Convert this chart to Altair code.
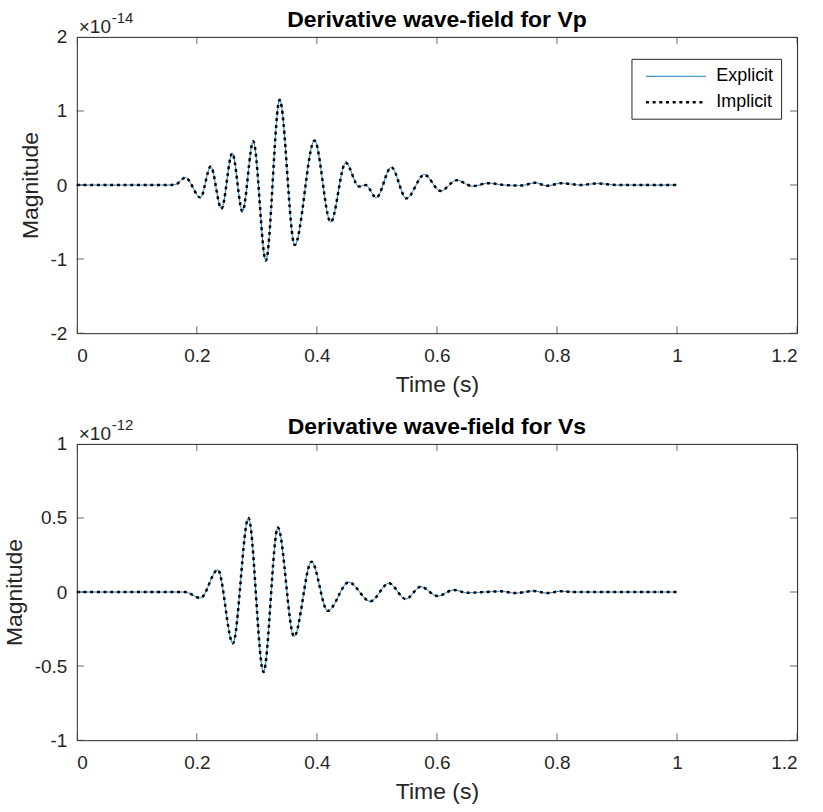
import altair as alt
import pandas as pd

# ---------------- data ----------------
series = ["Explicit", "Implicit"]

t_vp = [0.0, 0.15, 0.165, 0.181, 0.206, 0.223, 0.241, 0.259, 0.276, 0.294, 0.315,
        0.338, 0.363, 0.396, 0.423, 0.448, 0.470, 0.481, 0.499, 0.524, 0.549,
        0.579, 0.606, 0.633, 0.659, 0.686, 0.712, 0.739, 0.764, 0.783, 0.808,
        0.839, 0.867, 0.90, 1.0]
v_vp = [0.0, 0.0, 0.01, 0.10, -0.17, 0.25, -0.32, 0.43, -0.355, 0.59, -1.02,
        1.15, -0.81, 0.60, -0.50, 0.30, -0.02, 0.0, -0.17, 0.24, -0.18,
        0.14, -0.08, 0.065, -0.015, 0.025, 0.0, -0.007, 0.03, -0.01, 0.025,
        0.0, 0.02, 0.0, 0.0]

t_vs = [0.0, 0.18, 0.206, 0.235, 0.260, 0.286, 0.311, 0.335, 0.362, 0.391,
        0.418, 0.453, 0.489, 0.520, 0.548, 0.573, 0.601, 0.628, 0.650, 0.68,
        0.706, 0.731, 0.761, 0.783, 0.806, 0.83, 1.0]
v_vs = [0.0, 0.0, -0.04, 0.15, -0.346, 0.50, -0.54, 0.435, -0.30, 0.205,
        -0.127, 0.066, -0.063, 0.059, -0.047, 0.036, -0.027, 0.014, -0.005, 0.0,
        0.005, -0.007, 0.007, -0.007, 0.005, 0.0, 0.0]

x_ticks = [0, 0.2, 0.4, 0.6, 0.8, 1.0, 1.2]
vp_ticks = [-2, -1, 0, 1, 2]
vs_ticks = [-1, -0.5, 0, 0.5, 1]
titles = ["Derivative wave-field for Vp", "Derivative wave-field for Vs"]
exponents = ["-14", "-12"]

FONT = "Liberation Sans"
INK = "#262626"
W, H = 722, 297


def panel(t, v, ymin, ymax, yticks, title, exp):
    df = pd.concat([pd.DataFrame({"t": t, "v": v, "series": s}) for s in series],
                   ignore_index=True)
    xs = alt.Scale(domain=[0, 1.2], nice=False, zero=False)
    ys = alt.Scale(domain=[ymin, ymax], nice=False, zero=False)
    leg = alt.Legend(title=None, orient="none", legendX=556, legendY=22,
                     symbolType="M-3,0H3", symbolSize=400, symbolOffset=26,
                     labelFontSize=18, labelFont=FONT, labelColor="#000000",
                     strokeColor=INK, fillColor="white", padding=7, rowPadding=5,
                     labelOffset=29, cornerRadius=0)
    lines = alt.Chart(df).mark_line(interpolate="monotone", strokeCap="butt").encode(
        x=alt.X("t:Q", scale=xs,
                axis=alt.Axis(values=x_ticks, labelExpr="'' + datum.value",
                              title="Time (s)", ticks=False, domain=False,
                              grid=False, labelPadding=13, titlePadding=8)),
        y=alt.Y("v:Q", scale=ys,
                axis=alt.Axis(values=yticks, labelExpr="'' + datum.value",
                              title="Magnitude", ticks=False, domain=False,
                              grid=False, labelPadding=10, titlePadding=8)),
        color=alt.Color("series:N", scale=alt.Scale(domain=series,
                        range=["#0072BD", "#000000"]), legend=leg),
        strokeDash=alt.StrokeDash("series:N", scale=alt.Scale(domain=series,
                                  range=[[1, 0], [3, 3.7]]), legend=leg),
        strokeWidth=alt.StrokeWidth("series:N", scale=alt.Scale(domain=series,
                                    range=[1, 2.5]), legend=leg),
    )
    xt = pd.DataFrame({"x": x_ticks})
    yt = pd.DataFrame({"y": yticks})
    tick_style = dict(size=14, thickness=1, color=INK, clip=True)
    xb = alt.Chart(xt).mark_tick(orient="vertical", **tick_style).encode(
        x=alt.X("x:Q", scale=xs), y=alt.datum(ymin))
    xtop = alt.Chart(xt).mark_tick(orient="vertical", **tick_style).encode(
        x=alt.X("x:Q", scale=xs), y=alt.datum(ymax))
    yl = alt.Chart(yt).mark_tick(orient="horizontal", **tick_style).encode(
        y=alt.Y("y:Q", scale=ys), x=alt.datum(0))
    yr = alt.Chart(yt).mark_tick(orient="horizontal", **tick_style).encode(
        y=alt.Y("y:Q", scale=ys), x=alt.datum(1.2))
    ex = pd.DataFrame({"a": ["\u00d710"], "b": [exp], "title": [title]})
    e1 = alt.Chart(ex).mark_text(align="left", baseline="alphabetic", fontSize=19,
                                 font=FONT, color=INK).encode(
        text="a:N", x=alt.value(2), y=alt.value(-4))
    e2 = alt.Chart(ex).mark_text(align="left", baseline="alphabetic", fontSize=15,
                                 font=FONT, color=INK).encode(
        text="b:N", x=alt.value(35), y=alt.value(-14))
    ttl = alt.Chart(ex).mark_text(align="center", baseline="alphabetic",
                                  fontSize=23, fontWeight="bold", font=FONT,
                                  color="#000000").encode(
        text="title:N", x=alt.value(W / 2), y=alt.value(-10))
    return alt.layer(lines, xb, xtop, yl, yr, e1, e2, ttl).properties(
        width=W, height=H)


top = panel(t_vp, v_vp, -2, 2, vp_ticks, titles[0], exponents[0])
bot = panel(t_vs, v_vs, -1, 1, vs_ticks, titles[1], exponents[1])

chart = alt.vconcat(top, bot, spacing=18).properties(
    padding={"left": 2, "top": 7, "right": 25, "bottom": 0},
    background="white",
).configure_view(stroke=INK, strokeWidth=1).configure_axis(
    labelFont=FONT, labelFontSize=19, labelColor=INK,
    titleFont=FONT, titleFontSize=23, titleColor=INK, titleFontWeight="normal"
)

chart.save("out.html", embed_options={"renderer": "svg", "actions": False})
